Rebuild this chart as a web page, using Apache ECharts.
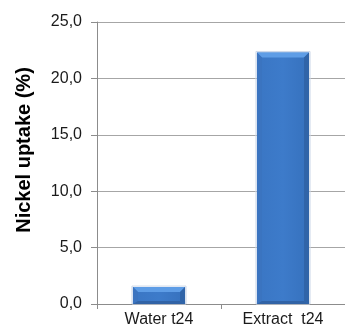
<!DOCTYPE html>
<html>
<head>
<meta charset="utf-8">
<script src="https://cdn.jsdelivr.net/npm/echarts@6/dist/echarts.min.js"></script>
<style>
  html, body { margin: 0; padding: 0; background: #ffffff; }
  #chart { width: 345px; height: 332px; }
</style>
</head>
<body>
<div id="chart"></div>
<script>
// Nickel uptake after 24 h, water vs. extract
var categories = ['Water t24', 'Extract  t24'];
var uptake = [1.5, 22.3];
var yTicks = { min: 0, max: 25, interval: 5 };

var FONT = 'Liberation Sans, Arial, sans-serif';

// Bevelled bar: face plus lighter/darker edge strips
function renderBevelBar(params, api) {
  var cat = api.value(0);
  var top = api.coord([cat, api.value(1)]);
  var base = api.coord([cat, 0]);
  var bw = api.size([1, 0])[0] * 0.42;
  var x0 = top[0] - bw / 2, x1 = top[0] + bw / 2;
  var y0 = top[1], y1 = base[1];
  var b = Math.min(5, (y1 - y0) / 2);
  var bb = Math.min(3, (y1 - y0) / 3);
  var face = new echarts.graphic.LinearGradient(0, 0, 1, 0, [
    { offset: 0, color: '#3a76c4' },
    { offset: 0.5, color: '#3d7bca' },
    { offset: 1, color: '#3671bd' }
  ]);
  return {
    type: 'group',
    children: [
      { type: 'rect', shape: { x: x0 - 1, y: y0 - 1, width: bw + 2, height: y1 - y0 + 1 },
        style: { fill: 'rgba(0,0,0,0)', stroke: '#cdd8e8', lineWidth: 1 } },
      { type: 'rect', shape: { x: x0, y: y0, width: bw, height: y1 - y0 },
        style: { fill: face } },
      { type: 'polygon', shape: { points: [[x0, y0], [x1, y0], [x1 - b, y0 + b], [x0 + b, y0 + b]] },
        style: { fill: '#5e9de6' } },
      { type: 'polygon', shape: { points: [[x0, y0], [x0 + b, y0 + b], [x0 + b, y1 - bb], [x0, y1]] },
        style: { fill: '#3b74c0' } },
      { type: 'polygon', shape: { points: [[x1, y0], [x1, y1], [x1 - b, y1 - bb], [x1 - b, y0 + b]] },
        style: { fill: '#3064a8' } },
      { type: 'polygon', shape: { points: [[x0, y1], [x1, y1], [x1 - b, y1 - bb], [x0 + b, y1 - bb]] },
        style: { fill: '#3163a6' } }
    ]
  };
}

var barData = uptake.map(function (v, i) { return [i, v]; });

var chart = echarts.init(document.getElementById('chart'), null, { renderer: 'canvas' });

chart.setOption({
  animation: false,
  grid: { left: 97, right: -6, top: 22, bottom: 28, containLabel: false },
  xAxis: {
    type: 'category',
    data: categories,
    axisLine: { lineStyle: { color: '#8c8c8c', width: 1 } },
    axisTick: { show: true, length: 5, lineStyle: { color: '#8c8c8c' } },
    axisLabel: {
      color: '#1a1a1a',
      fontFamily: FONT,
      fontSize: 16,
      margin: 8
    }
  },
  yAxis: {
    type: 'value',
    min: yTicks.min,
    max: yTicks.max,
    interval: yTicks.interval,
    name: 'Nickel uptake (%)',
    nameLocation: 'middle',
    nameRotate: 90,
    nameGap: 63,
    nameTextStyle: {
      color: '#000000',
      fontFamily: FONT,
      fontSize: 20,
      fontWeight: 'bold',
      padding: [0, 0, 0, 26]
    },
    axisLine: { show: true, lineStyle: { color: '#8c8c8c', width: 1 } },
    axisTick: { show: true, length: 6, lineStyle: { color: '#8c8c8c' } },
    splitLine: { show: true, lineStyle: { color: '#a6a6a6', width: 1 } },
    axisLabel: {
      color: '#1a1a1a',
      fontFamily: FONT,
      fontSize: 16,
      margin: 15,
      formatter: function (v) { return v.toFixed(1).replace('.', ','); }
    }
  },
  series: [{
    type: 'custom',
    renderItem: renderBevelBar,
    data: barData,
    encode: { x: 0, y: 1 },
    z: 3
  }]
});
</script>
</body>
</html>
